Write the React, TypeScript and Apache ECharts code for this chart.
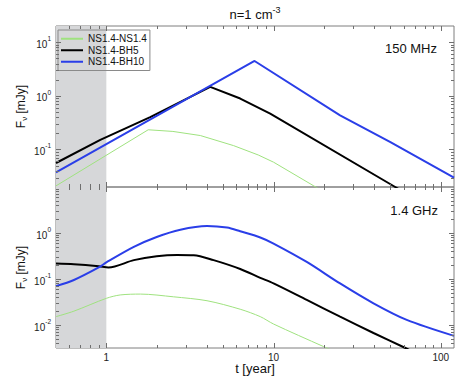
import React, { useEffect, useRef } from 'react';
import * as echarts from 'echarts';

const seriesNames = ['NS1.4-NS1.4', 'NS1.4-BH5', 'NS1.4-BH10'];
const seriesColors = ['#9fe27f', '#000000', '#2a3ee8'];
const seriesWidths = [1, 2, 2];

// 150 MHz panel
const t150Green = [0.5, 1.78, 2.5, 3.65, 5.77, 8.1, 10, 17.4, 25];
const f150Green = [0.021, 0.233, 0.217, 0.182, 0.118, 0.079, 0.058, 0.021, 0.0108];
const t150Black = [0.5, 0.92, 1.83, 4.18, 6.32, 9.55, 53.4, 120];
const f150Black = [0.056, 0.151, 0.4, 1.47, 0.89, 0.466, 0.02, 0.0045];
const t150Blue = [0.5, 7.7, 25, 50, 120];
const f150Blue = [0.0375, 4.46, 0.433, 0.137, 0.03];

// 1.4 GHz panel
const t14Green = [0.5, 0.64, 1, 1.21, 1.6, 2.52, 4.0, 6.32, 8.33, 10, 19.9, 30];
const f14Green = [0.0152, 0.02, 0.038, 0.045, 0.047, 0.041, 0.0337, 0.022, 0.0152, 0.0105, 0.0034, 0.00176];
const t14Black = [0.5, 0.64, 0.9, 1.03, 1.46, 2.0, 2.65, 3.33, 4.38, 6.32, 8.33, 10, 15.8, 25, 39.6, 61, 120];
const f14Black = [0.217, 0.21, 0.19, 0.178, 0.257, 0.313, 0.334, 0.33, 0.257, 0.165, 0.106, 0.08, 0.035, 0.0152, 0.0067, 0.0032, 0.00096];
const t14Blue = [0.5, 0.64, 0.9, 1.01, 1.46, 2.0, 2.77, 4.0, 5.27, 6.32, 8.33, 10, 15.8, 25, 39.6, 62.6, 120];
const f14Blue = [0.07, 0.095, 0.178, 0.235, 0.5, 0.82, 1.18, 1.42, 1.31, 1.09, 0.8, 0.59, 0.235, 0.08, 0.0296, 0.0129, 0.0058];

// axis ranges and tick labels
const xRange = [0.5, 120];
const yRangeTop = [0.02, 20];
const yRangeBottom = [Math.pow(10, -2.5), 10];
const xTickLabels = ['1', '10', '100'];
const panelLabels = ['150 MHz', '1.4 GHz'];

const zip = (t: number[], f: number[]) => t.map((v, i) => [v, f[i]]);

const minorTicks = (lo: number, hi: number) => {
  const out: number[] = [];
  for (let d = -4; d <= 3; d++) {
    for (let k = 1; k <= 9; k++) {
      const v = k * Math.pow(10, d);
      if (v > lo * 1.0001 && v < hi * 0.9999) out.push(v);
    }
  }
  return out;
};

const isPow10 = (v: number) => Math.abs(Math.log10(v) - Math.round(Math.log10(v))) < 1e-6;

const tickSeries = (idx: number, yr: number[]) => {
  const xs = minorTicks(xRange[0], xRange[1]);
  const ys = minorTicks(yr[0], yr[1]);
  return {
    type: 'custom',
    xAxisIndex: idx,
    yAxisIndex: idx,
    silent: true,
    z: 10,
    clip: false,
    data: [[1, 1]],
    renderItem: (params: any, api: any) => {
      const cs = params.coordSys;
      const children: any[] = [];
      const st = { stroke: '#6f6f6f', lineWidth: 1 };
      xs.forEach((v) => {
        const len = isPow10(v) ? 5 : 3;
        const px = Math.round(api.coord([v, 1])[0]) + 0.5;
        children.push({ type: 'line', shape: { x1: px, y1: cs.y + cs.height, x2: px, y2: cs.y + cs.height - len }, style: st });
        children.push({ type: 'line', shape: { x1: px, y1: cs.y, x2: px, y2: cs.y + len }, style: st });
      });
      ys.forEach((v) => {
        const len = isPow10(v) ? 5 : 3;
        const py = Math.round(api.coord([1, v])[1]) + 0.5;
        children.push({ type: 'line', shape: { x1: cs.x, y1: py, x2: cs.x + len, y2: py }, style: st });
        children.push({ type: 'line', shape: { x1: cs.x + cs.width, y1: py, x2: cs.x + cs.width - len, y2: py }, style: st });
      });
      return { type: 'group', children };
    },
  };
};

const FONT = 'Liberation Sans, Arial, Helvetica, sans-serif';

const yLabel = (maxV: number) => ({
  fontFamily: FONT,
  color: '#222',
  margin: 5,
  formatter: (v: number) => {
    if (!isPow10(v)) return '';
    if (Math.abs(v - maxV) / maxV < 1e-6) return '';
    const e = Math.round(Math.log10(v));
    return `{a|10}{b|${e}}`;
  },
  rich: {
    a: { fontSize: 10, fontFamily: FONT, color: '#222', lineHeight: 14, verticalAlign: 'bottom' },
    b: { fontSize: 6.5, fontFamily: FONT, color: '#222', lineHeight: 14, verticalAlign: 'top' },
  },
});

export default function App() {
  const ref = useRef<HTMLDivElement>(null);
  useEffect(() => {
    if (!ref.current) return;
    const chart = echarts.init(ref.current, null, { renderer: 'svg' });
    const grids = [
      { left: 56, top: 26, width: 398, height: 161, show: true, borderColor: '#7f7f7f', borderWidth: 1, backgroundColor: 'transparent' },
      { left: 56, top: 187, width: 398, height: 161, show: true, borderColor: '#7f7f7f', borderWidth: 1, backgroundColor: 'transparent' },
    ];
    const xAxes = [0, 1].map((i) => ({
      type: 'log',
      gridIndex: i,
      min: xRange[0],
      max: xRange[1],
      axisLine: { show: false },
      axisTick: { show: false },
      splitLine: { show: false },
      axisLabel: {
        show: i === 1,
        fontFamily: FONT,
        fontSize: 10,
        lineHeight: 10,
        color: '#222',
        margin: 4,
        formatter: (v: number) => {
          if (!isPow10(v)) return '';
          const s = String(Math.round(v));
          return xTickLabels.includes(s) ? s : '';
        },
      },
      name: i === 1 ? 't [year]' : '',
      nameLocation: 'middle',
      nameGap: 14,
      nameMoveOverlap: false,
      nameTextStyle: { fontFamily: FONT, fontSize: 13, lineHeight: 13, color: '#111' },
    }));
    const yNameStyle = {
      fontFamily: FONT,
      fontSize: 12,
      color: '#111',
      rich: {
        s: { fontSize: 8, fontFamily: FONT, color: '#111', padding: [6, 0, 0, 0] },
      },
    };
    const yAxes = [yRangeTop, yRangeBottom].map((r, i) => ({
      type: 'log',
      gridIndex: i,
      min: r[0],
      max: r[1],
      axisLine: { show: false },
      axisTick: { show: false },
      splitLine: { show: false },
      axisLabel: yLabel(r[1]),
      name: 'F{s|ν} [mJy]',
      nameLocation: 'middle',
      nameGap: 28,
      nameMoveOverlap: false,
      nameTextStyle: yNameStyle,
    }));

    const panels = [
      [zip(t150Green, f150Green), zip(t150Black, f150Black), zip(t150Blue, f150Blue)],
      [zip(t14Green, f14Green), zip(t14Black, f14Black), zip(t14Blue, f14Blue)],
    ];
    const series: any[] = [];
    panels.forEach((p, gi) => {
      p.forEach((data, si) => {
        series.push({
          type: 'line',
          name: seriesNames[si],
          xAxisIndex: gi,
          yAxisIndex: gi,
          data,
          symbol: 'none',
          smooth: gi === 1 ? 0.3 : false,
          clip: true,
          z: 3 + si,
          lineStyle: { color: seriesColors[si], width: seriesWidths[si] },
          itemStyle: { color: seriesColors[si] },
          markArea: si === 0 ? {
            silent: true,
            itemStyle: { color: '#d6d7d9' },
            data: [[{ xAxis: 0.5 }, { xAxis: 1 }]],
          } : undefined,
        });
      });
      series.push(tickSeries(gi, gi === 0 ? yRangeTop : yRangeBottom));
    });

    chart.setOption({
      animation: false,
      backgroundColor: '#ffffff',
      grid: grids,
      xAxis: xAxes,
      yAxis: yAxes,
      legend: {
        data: seriesNames.map((n) => ({ name: n, icon: 'rect' })),
        orient: 'vertical',
        left: 58,
        top: 30,
        padding: [3, 3, 3, 3],
        itemGap: 0,
        itemWidth: 22,
        itemHeight: 2,
        borderColor: '#8a8a8a',
        borderWidth: 1,
        borderRadius: 0,
        backgroundColor: 'transparent',
        textStyle: { fontFamily: FONT, fontSize: 10, color: '#111', lineHeight: 11.5 },
      },
      graphic: [
        {
          type: 'text',
          x: 255,
          y: 14,
          style: {
            text: 'n=1 cm{s|-3}',
            font: `13px ${FONT}`,
            fill: '#111',
            align: 'center',
            verticalAlign: 'middle',
            rich: { s: { fontSize: 9, fontFamily: FONT, fill: '#111', padding: [0, 0, 8, 0] } },
          },
        },
        { type: 'text', x: 437, y: 48, style: { text: panelLabels[0], font: `13px ${FONT}`, fill: '#111', align: 'right', verticalAlign: 'middle' } },
        { type: 'text', x: 438, y: 210, style: { text: panelLabels[1], font: `13px ${FONT}`, fill: '#111', align: 'right', verticalAlign: 'middle' } },
      ],
      series,
    });
    return () => chart.dispose();
  }, []);
  return <div ref={ref} style={{ position: 'fixed', left: 0, top: 0, width: 463, height: 388 }} />;
}
